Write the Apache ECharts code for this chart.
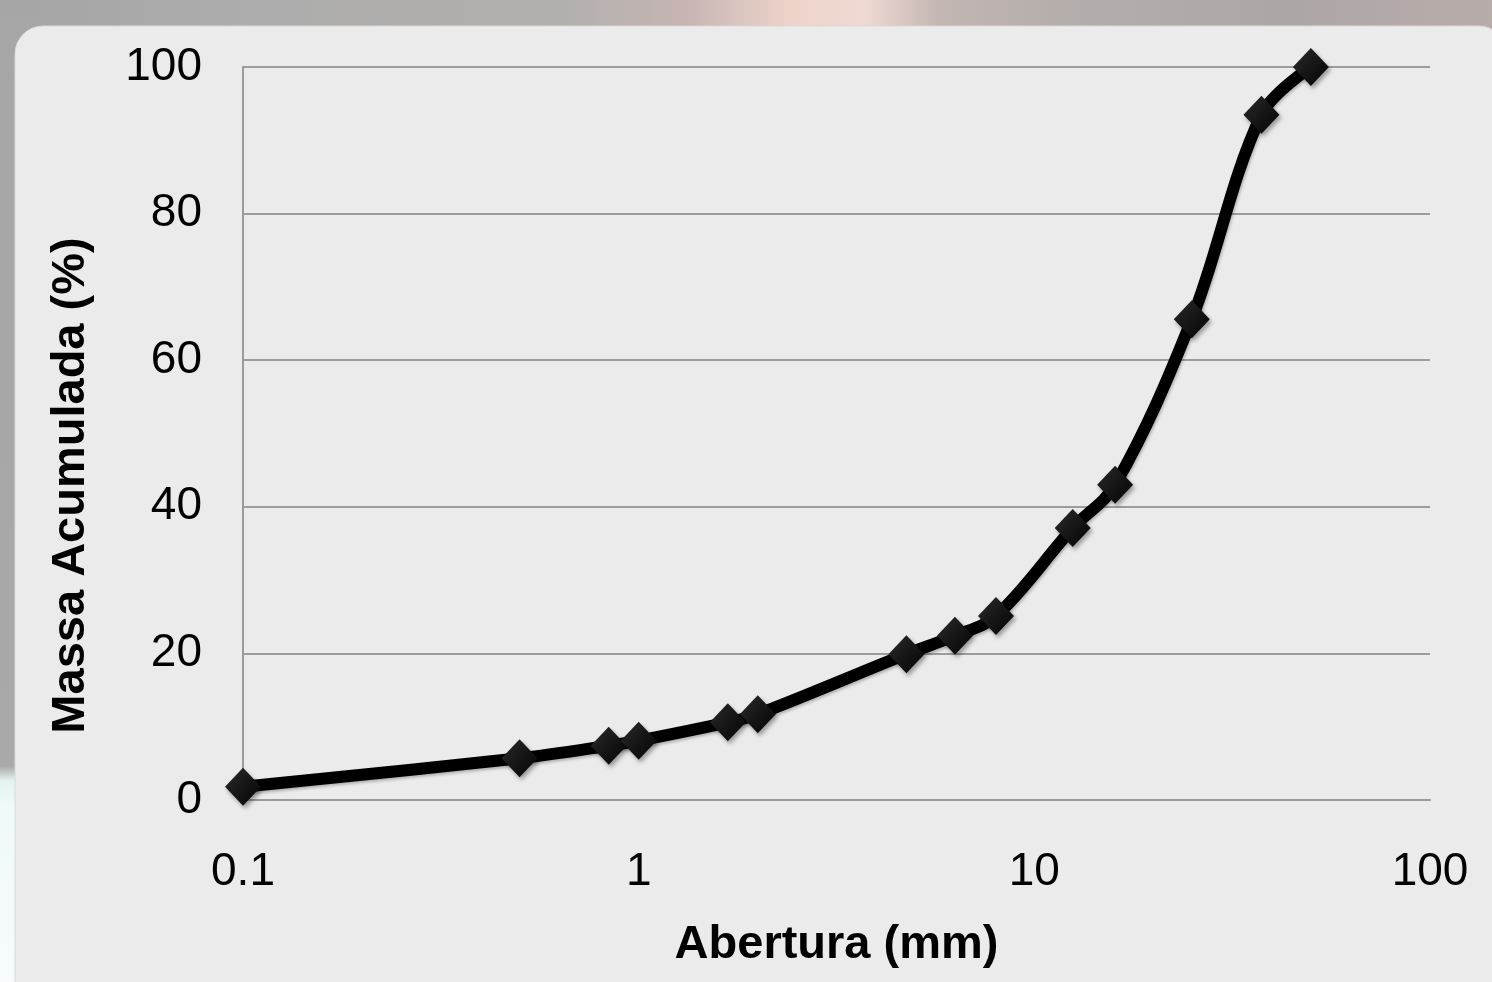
<!DOCTYPE html>
<html>
<head>
<meta charset="utf-8">
<title>Curva granulométrica</title>
<script src="https://cdn.jsdelivr.net/npm/echarts@6/dist/echarts.min.js"></script>
<style>
  html, body { margin: 0; padding: 0; background: #ebebeb; overflow: hidden; }
  #chart { width: 1492px; height: 982px; }
</style>
</head>
<body>
<div id="chart"></div>
<script>
// Sieve openings (mm) and cumulative passing mass (%)
const abertura = [0.1, 0.5, 0.84, 1.0, 1.68, 2.0, 4.75, 6.3, 8.0, 12.5, 16, 25, 37.5, 50];
const massaAcumulada = [1.8, 5.7, 7.4, 8.1, 10.6, 11.7, 19.9, 22.4, 25.1, 37.1, 43.0, 65.6, 93.5, 100];

const xTickLabels = ['0.1', '1', '10', '100'];
const yTicks = [0, 20, 40, 60, 80, 100];

const pontos = abertura.map((a, i) => [a, massaAcumulada[i]]);

const chart = echarts.init(document.getElementById('chart'), null, { renderer: 'canvas' });

const fontFamily = '"Liberation Sans", Arial, Helvetica, sans-serif';

chart.setOption({
  backgroundColor: 'transparent',
  animation: false,
  graphic: [
    // backdrop band along the top
    {
      type: 'rect', z: -10, silent: true,
      shape: { x: 0, y: 0, width: 1492, height: 40 },
      style: {
        fill: new echarts.graphic.LinearGradient(0, 0, 1, 0, [
          { offset: 0.0, color: '#a5a5a5' },
          { offset: 0.15, color: '#acacac' },
          { offset: 0.38, color: '#b2b0ae' },
          { offset: 0.46, color: '#c6b5b2' },
          { offset: 0.53, color: '#eed3cb' },
          { offset: 0.58, color: '#efd9d2' },
          { offset: 0.63, color: '#c2b6b2' },
          { offset: 0.72, color: '#b3adab' },
          { offset: 0.86, color: '#aca6a6' },
          { offset: 1.0, color: '#b8acaa' }
        ])
      }
    },
    // backdrop strip along the left edge
    {
      type: 'rect', z: -10, silent: true,
      shape: { x: 0, y: 0, width: 40, height: 982 },
      style: {
        fill: new echarts.graphic.LinearGradient(0, 0, 0, 1, [
          { offset: 0.0, color: '#a6a6a6' },
          { offset: 0.78, color: '#a9a9a9' },
          { offset: 0.795, color: '#e4f2f2' },
          { offset: 0.82, color: '#effafa' },
          { offset: 1.0, color: '#f7fbfb' }
        ])
      }
    },
    // light panel holding the chart
    {
      type: 'rect', z: -9, silent: true,
      shape: { x: 15, y: 26, width: 1492, height: 982, r: [28, 28, 0, 0] },
      style: { fill: '#ebebeb', stroke: '#d9d9d9', lineWidth: 1 }
    }
  ],
  grid: {
    left: 243,
    right: 62,
    top: 67,
    bottom: 182,
    containLabel: false,
    outerBoundsMode: 'none'
  },
  xAxis: {
    type: 'log',
    logBase: 10,
    min: 0.1,
    max: 100,
    name: 'Abertura (mm)',
    nameLocation: 'middle',
    nameGap: 122,
    nameTextStyle: {
      fontFamily: fontFamily,
      fontSize: 47,
      fontWeight: 'bold',
      color: '#000'
    },
    axisLine: { show: true, lineStyle: { color: '#9a9a9a', width: 2 } },
    axisTick: { show: false },
    splitLine: { show: false },
    minorTick: { show: false },
    axisLabel: {
      margin: 49,
      fontFamily: fontFamily,
      fontSize: 46,
      color: '#000',
      formatter: function (v) {
        const k = Math.round(Math.log10(v)) + 1;
        return xTickLabels[k] !== undefined ? xTickLabels[k] : '';
      }
    }
  },
  yAxis: {
    type: 'value',
    min: 0,
    max: 100,
    interval: 20,
    name: 'Massa Acumulada (%)',
    nameLocation: 'middle',
    nameGap: 148,
    nameRotate: 90,
    nameTextStyle: {
      fontFamily: fontFamily,
      fontSize: 47,
      fontWeight: 'bold',
      color: '#000',
      padding: [0, 104, 0, 0]
    },
    axisLine: { show: true, lineStyle: { color: '#9a9a9a', width: 2 } },
    axisTick: { show: false },
    splitLine: { show: true, lineStyle: { color: '#9c9c9c', width: 2 } },
    axisLabel: {
      margin: 41,
      fontFamily: fontFamily,
      fontSize: 46,
      color: '#000',
      formatter: function (v) {
        return yTicks.indexOf(v) >= 0 ? String(v) : '';
      }
    }
  },
  series: [
    {
      type: 'line',
      data: pontos,
      smooth: 0.35,
      symbol: 'diamond',
      symbolSize: [36, 38],
      lineStyle: {
        color: '#000',
        width: 12,
        shadowColor: 'rgba(0,0,0,0.25)',
        shadowBlur: 3,
        shadowOffsetX: 1,
        shadowOffsetY: 2
      },
      itemStyle: {
        color: new echarts.graphic.LinearGradient(0, 0, 1, 1, [
          { offset: 0, color: '#2b2b2b' },
          { offset: 0.5, color: '#161616' },
          { offset: 1, color: '#050505' }
        ]),
        borderWidth: 0,
        shadowColor: 'rgba(0,0,0,0.35)',
        shadowBlur: 4,
        shadowOffsetX: 2,
        shadowOffsetY: 3
      },
      emphasis: { disabled: true },
      z: 3
    }
  ]
});
</script>
</body>
</html>
